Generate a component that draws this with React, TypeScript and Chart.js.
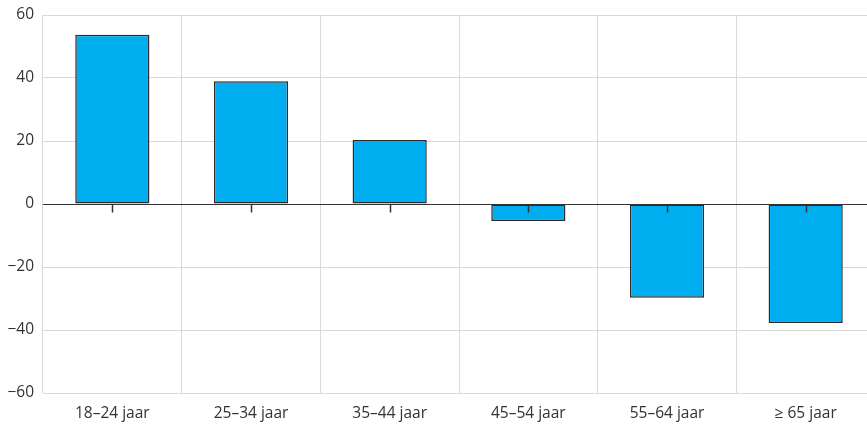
import React, { useEffect, useRef } from "react";
import { Chart, registerables } from "chart.js";

Chart.register(...registerables);

const categories = ["18–24 jaar", "25–34 jaar", "35–44 jaar", "45–54 jaar", "55–64 jaar", "≥ 65 jaar"];
const values = [53.7, 39.0, 20.3, -5.4, -29.8, -37.8];
const yTicks = [-60, -40, -20, 0, 20, 40, 60];

const FONT = "'Open Sans', 'Noto Sans', sans-serif";

const zeroTickPlugin = {
  id: "zeroTicks",
  afterDatasetsDraw(chart: any) {
    const { ctx, scales, chartArea } = chart;
    const x = scales.x;
    const y = scales.y;
    const y0 = Math.round(y.getPixelForValue(0)) + 0.5;
    ctx.save();
    ctx.strokeStyle = "#333333";
    ctx.lineWidth = 1.2;
    ctx.beginPath();
    ctx.moveTo(chartArea.left, y0);
    ctx.lineTo(chartArea.right, y0);
    ctx.stroke();
    ctx.lineWidth = 1.5;
    categories.forEach((_, i) => {
      const px = Math.round(x.getPixelForValue(i)) + 0.5;
      ctx.beginPath();
      ctx.moveTo(px, y0);
      ctx.lineTo(px, y0 + 8);
      ctx.stroke();
    });
    ctx.restore();
  },
};

export default function App() {
  const ref = useRef<HTMLCanvasElement>(null);
  useEffect(() => {
    if (!ref.current) return;
    const chart = new Chart(ref.current, {
      type: "bar",
      data: {
        labels: categories,
        datasets: [
          {
            data: values,
            backgroundColor: "#00AEEF",
            borderColor: "#2b2b2b",
            borderWidth: 1.5,
            borderSkipped: false,
            categoryPercentage: 1,
            barPercentage: 0.535,
          },
        ],
      },
      options: {
        responsive: false,
        animation: false,
        maintainAspectRatio: false,
        layout: { padding: { top: 15, right: 0, left: 0, bottom: 0 } },
        plugins: { legend: { display: false }, tooltip: { enabled: false } },
        scales: {
          x: {
            grid: { display: true, offset: true, color: "#d9d9d9", lineWidth: 1, drawTicks: false },
            border: { display: false },
            ticks: { color: "#333333", font: { family: FONT, size: 15.5 }, padding: 11 },
            afterFit: (s: any) => { s.height = 35; s.paddingLeft = 0; s.paddingRight = 0; },
          },
          y: {
            min: -60,
            max: 60,
            afterBuildTicks: (s: any) => { s.ticks = yTicks.map((v) => ({ value: v })); },
            grid: { color: "#d9d9d9", lineWidth: 1, drawTicks: false },
            border: { display: false },
            ticks: {
              color: "#333333",
              font: { family: FONT, size: 15.5 },
              padding: 9,
              callback: (v: any) => (Number(v) < 0 ? "−" + Math.abs(Number(v)) : String(v)),
            },
            afterFit: (s: any) => { s.width = 43; s.paddingTop = 0; s.paddingBottom = 0; },
          },
        },
      },
      plugins: [zeroTickPlugin],
    });
    return () => chart.destroy();
  }, []);
  return (
    <div style={{ position: "fixed", left: 0, top: 0, width: 867, height: 428, overflow: "hidden", background: "#fff" }}>
      <canvas ref={ref} width={875} height={428} style={{ width: 875, height: 428, display: "block" }} />
    </div>
  );
}
